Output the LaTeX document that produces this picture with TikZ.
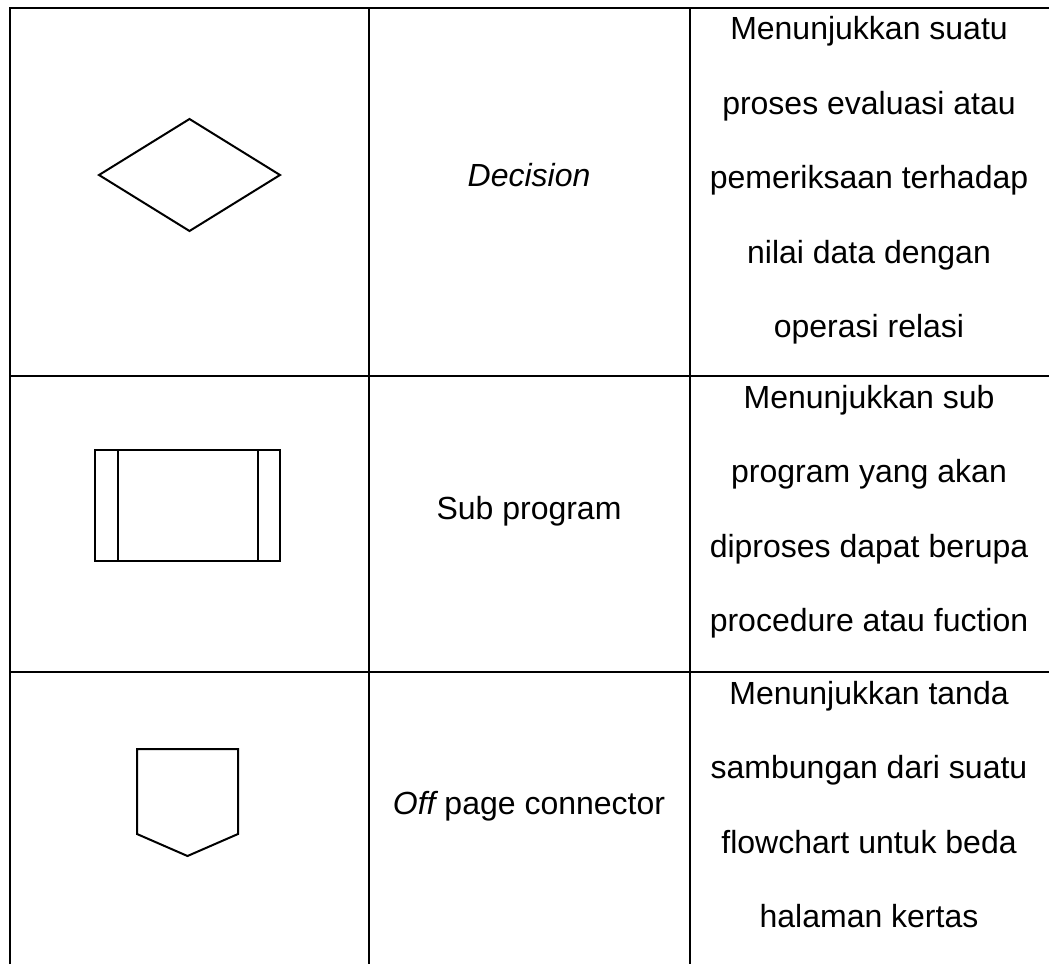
\documentclass[tikz,border=0pt]{standalone}
\usepackage{fontspec}
\setmainfont{Liberation Sans}
\usetikzlibrary{positioning}

\begin{document}
\begin{tikzpicture}[x=0.5pt,y=-0.5pt]
        \tikzset{grid/.style={draw, line width=1.1pt},
        symbol/.style={draw, line width=1pt, line join=miter},
        txt/.style={inner sep=0pt, font=\fontsize{16}{19}\selectfont, text height=16pt, text depth=20.85pt},
        lbl/.style={inner sep=0pt, font=\fontsize{16}{19}\selectfont, anchor=base},
        }
        \useasboundingbox (0,0) rectangle (1049,964);

%% table
        \draw[grid] (10,964) -- (10,8) -- (1049,8);
        \draw[grid] (369,8) -- (369,964);
        \draw[grid] (690,8) -- (690,964);
        \draw[grid] (10,376) -- (1049,376);
        \draw[grid] (10,672) -- (1049,672);

%% symbols
        \draw[symbol] (99,175) -- (189.5,119) -- (280,175) -- (189.5,231) -- cycle;  %% decision
        \draw[symbol] (95,450) rectangle (280,561);  %% sub program
        \draw[symbol] (118,450) -- (118,561) (258,450) -- (258,561);
        \draw[symbol] (137,749) -- (238,749) -- (238,834) -- (187.5,856) -- (137,834) -- cycle;  %% off page connector

%% names
        \node [lbl] (decision) at (529,186.5) {\itshape Decision};
        \node [lbl] (subprog) at (529,519) {Sub program};
        \node [lbl] (offpage) at (529,814.5) {\itshape Off\upshape{} page connector};

%% descriptions
        \node [txt, anchor=north] (d1) at (869,7.5) {Menunjukkan suatu};
        \node [txt, below=0pt of d1] (d2) {proses evaluasi atau};
        \node [txt, below=0pt of d2] (d3) {pemeriksaan terhadap};
        \node [txt, below=0pt of d3] (d4) {nilai data dengan};
        \node [txt, below=0pt of d4] (d5) {operasi relasi};

        \node [txt, anchor=north] (s1) at (869,376) {Menunjukkan sub};
        \node [txt, below=0pt of s1] (s2) {program yang akan};
        \node [txt, below=0pt of s2] (s3) {diproses dapat berupa};
        \node [txt, below=0pt of s3] (s4) {procedure atau fuction};

        \node [txt, anchor=north] (o1) at (869,672) {Menunjukkan tanda};
        \node [txt, below=0pt of o1] (o2) {sambungan dari suatu};
        \node [txt, below=0pt of o2] (o3) {flowchart untuk beda};
        \node [txt, below=0pt of o3] (o4) {halaman kertas};
\end{tikzpicture}
\end{document}
